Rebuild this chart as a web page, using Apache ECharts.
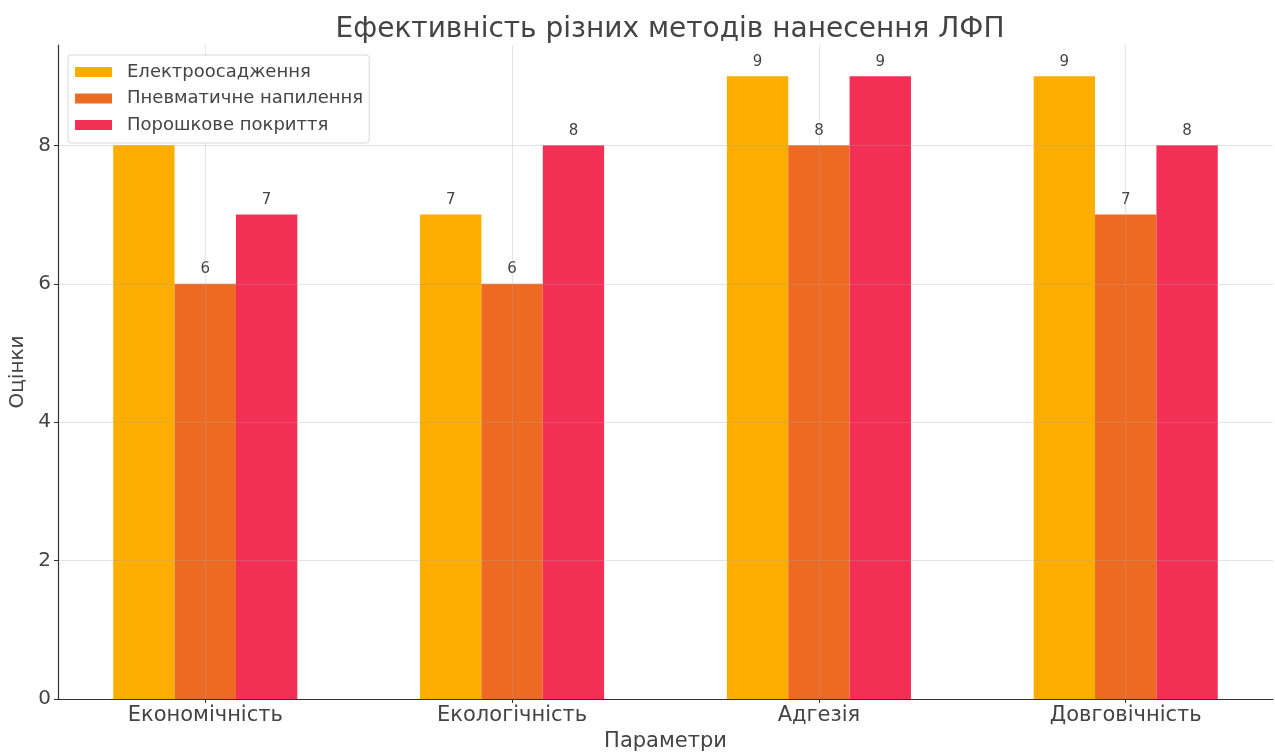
<!DOCTYPE html>
<html>
<head>
<meta charset="utf-8">
<script src="https://cdn.jsdelivr.net/npm/echarts@6/dist/echarts.min.js"></script>
<style>
  html, body { margin: 0; padding: 0; background: #fff; }
  #chart { width: 1275px; height: 755px; }
</style>
</head>
<body>
<div id="chart"></div>
<script>
// Scores per parameter for each application method
const categories = ['Економічність', 'Екологічність', 'Адгезія', 'Довговічність'];
const methods = ['Електроосадження', 'Пневматичне напилення', 'Порошкове покриття'];
const electroDeposition = [8, 7, 9, 9];
const pneumaticSpray = [6, 6, 8, 7];
const powderCoating = [7, 8, 9, 8];
const yTicks = [0, 2, 4, 6, 8];

const seriesValues = [electroDeposition, pneumaticSpray, powderCoating];
const colors = ['#FDAC00', '#EE6A22', '#F42F55'];
const catIdx = categories.map((_, i) => i);
const font = 'DejaVu Sans, sans-serif';
const gridColor = 'rgba(170,170,170,0.3)';

const chart = echarts.init(document.getElementById('chart'), null, { renderer: 'canvas' });

chart.setOption({
  animation: false,
  backgroundColor: '#ffffff',
  title: {
    text: 'Ефективність різних методів нанесення ЛФП',
    left: 665,
    textAlign: 'center',
    top: 11,
    textStyle: { fontFamily: font, fontSize: 28, fontWeight: 'normal', color: '#444' }
  },
  legend: {
    data: methods,
    orient: 'vertical',
    left: 68,
    top: 55,
    padding: [8, 6, 9, 7],
    icon: 'rect',
    itemWidth: 37,
    itemHeight: 10,
    itemGap: 8.5,
    backgroundColor: 'rgba(255,255,255,0.93)',
    borderColor: '#d8d8d8',
    borderWidth: 1,
    borderRadius: 3,
    textStyle: { fontFamily: font, fontSize: 18, lineHeight: 18, color: '#444', padding: [0, 0, 0, 10] },
    z: 10
  },
  grid: { left: 58, right: 2, top: 45, bottom: 56, containLabel: false, outerBoundsMode: 'none' },
  xAxis: {
    type: 'value',
    min: -0.48,
    max: 3.48,
    z: 3,
    name: 'Параметри',
    nameLocation: 'middle',
    nameGap: 31,
    nameTextStyle: { fontFamily: font, fontSize: 21, color: '#444' },
    axisLine: { show: true, onZero: false, lineStyle: { color: '#333', width: 1.2 } },
    axisTick: { show: true, customValues: catIdx, length: 4, lineStyle: { color: '#333' } },
    axisLabel: {
      customValues: catIdx,
      formatter: v => categories[Math.round(v)] || '',
      fontFamily: font, fontSize: 21, color: '#444', margin: 6
    },
    splitLine: { show: true, customValues: catIdx, lineStyle: { color: gridColor, width: 1 } }
  },
  yAxis: {
    type: 'value',
    min: 0,
    max: 9.45,
    z: 3,
    name: 'Оцінки',
    nameLocation: 'middle',
    nameGap: 27,
    nameTextStyle: { fontFamily: font, fontSize: 20, color: '#444' },
    axisLine: { show: true, onZero: false, lineStyle: { color: '#333', width: 1.2 } },
    axisTick: { show: true, customValues: yTicks, length: 4, lineStyle: { color: '#333' } },
    axisLabel: { customValues: yTicks, fontFamily: font, fontSize: 20, color: '#444', margin: 7 },
    splitLine: { show: true, customValues: yTicks, lineStyle: { color: gridColor, width: 1 } }
  },
  series: methods.map((name, s) => ({
    name,
    type: 'bar',
    data: seriesValues[s].map((v, i) => [i, v]),
    barWidth: '20%',
    barGap: '0%',
    itemStyle: { color: colors[s] },
    label: {
      show: true,
      position: 'top',
      distance: 7,
      formatter: p => p.value[1],
      fontFamily: font,
      fontSize: 15,
      color: '#444'
    }
  }))
});
</script>
</body>
</html>
